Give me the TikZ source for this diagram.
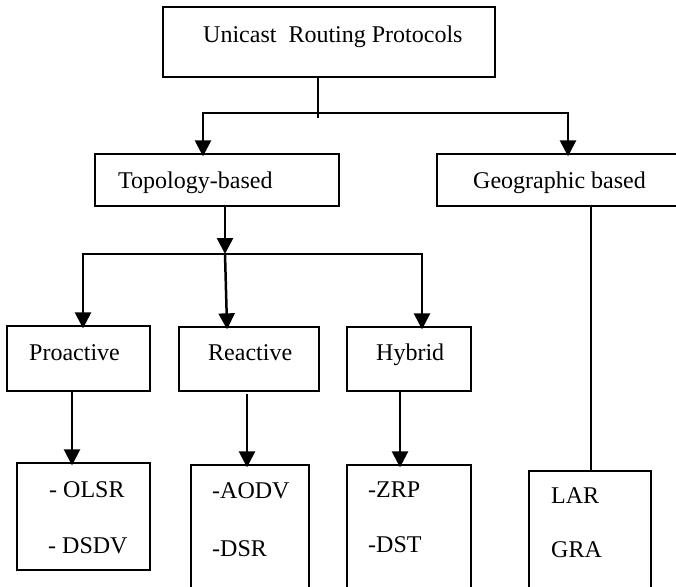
\documentclass[tikz,border=0pt]{standalone}
\usepackage{fontspec}
\setmainfont{Liberation Serif}
\usetikzlibrary{arrows.meta}
\tikzset{
  box/.style={draw,line width=1.3pt,inner sep=0pt},
  lbl/.style={anchor=base west,inner sep=0pt,font=\fontsize{24}{29}\selectfont},
  arrow/.style={-{Triangle[length=16pt,width=16pt]},line width=2.5pt,shorten >=-3pt},
  link/.style={line width=2.5pt},
  thinlink/.style={line width=1.8pt}
}

\begin{document}
\begin{tikzpicture}[x=1pt,y=-1pt]
\clip (0,0) rectangle (676,586);
% top level
\node[box,minimum width=332pt,minimum height=70pt] (root) at (329,42) {};
\node[lbl] (rootT) at (203,42) {Unicast~~Routing Protocols};

% second level
\node[box,minimum width=244pt,minimum height=52pt] (topo) at (217,180) {};
\node[lbl] (topoT) at (118,188) {Topology-based};
\node[box,minimum width=247pt,minimum height=52pt] (geo) at (560.5,180) {};
\node[lbl] (geoT) at (473,188) {Geographic based};

% third level
\node[box,minimum width=143pt,minimum height=65pt] (pro) at (78.5,358.5) {};
\node[lbl] (proT) at (29,360) {Proactive};
\node[box,minimum width=140pt,minimum height=64pt] (rea) at (249,359) {};
\node[lbl] (reaT) at (208,360) {Reactive};
\node[box,minimum width=124pt,minimum height=64pt] (hyb) at (409,359) {};
\node[lbl] (hybT) at (376,360) {Hybrid};

% protocols
\node[box,minimum width=133pt,minimum height=107pt] (olsr) at (83.5,516.5) {};
\node[lbl] (olsrT) at (49,497) {- OLSR};
\node[lbl] (dsdvT) at (48,553) {- DSDV};
\node[box,minimum width=118pt,minimum height=135pt] (aodv) at (250,532.5) {};
\node[lbl] (aodvT) at (212,498) {-AODV};
\node[lbl] (dsrT) at (212,556) {-DSR};
\node[box,minimum width=124pt,minimum height=135pt] (zrp) at (409,532.5) {};
\node[lbl] (zrpT) at (368,497) {-ZRP};
\node[lbl] (dstT) at (368,552) {-DST};
\node[box,minimum width=122pt,minimum height=129pt] (lar) at (590,535.5) {};
\node[lbl] (larT) at (551,503) {LAR};
\node[lbl] (graT) at (551,557) {GRA};

% connectors
\coordinate (j1) at (318,113);
\coordinate (j1e) at (318,118);
\coordinate (b1) at (203,113);
\coordinate (b2) at (568,113);
\draw[link] (root.south -| j1) -- (j1e);
\draw[arrow] (j1) -- (b1) -- (b1 |- topo.north);
\draw[arrow] (j1) -- (b2) -- (b2 |- geo.north);

\coordinate (j2) at (225,254);
\coordinate (c1) at (83,254);
\coordinate (c2) at (227,254);
\coordinate (c3) at (422,254);
\draw[arrow,shorten >=0pt] (topo.south -| j2) -- (j2);
\draw[arrow] (j2) -- (c1) -- (c1 |- pro.north);
\draw[arrow] (j2) -- (c2 |- rea.north);
\draw[arrow] (j2) -- (c3) -- (c3 |- hyb.north);

\coordinate (d1) at (72,0);
\coordinate (d2) at (247,394);
\coordinate (d3) at (400,0);
\coordinate (d4) at (591,0);
\draw[arrow] (pro.south -| d1) -- (olsr.north -| d1);
\draw[arrow] (d2) -- (aodv.north -| d2);
\draw[arrow] (hyb.south -| d3) -- (zrp.north -| d3);
\draw[thinlink] (geo.south -| d4) -- (lar.north -| d4);
\end{tikzpicture}
\end{document}
